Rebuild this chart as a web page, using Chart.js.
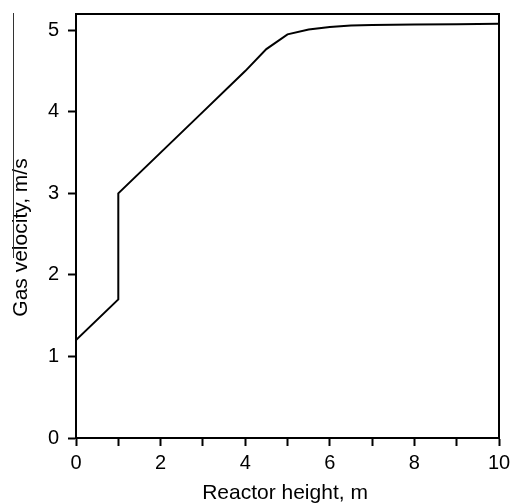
<!DOCTYPE html>
<html>
<head>
<meta charset="utf-8">
<script src="https://cdn.jsdelivr.net/npm/chart.js@4.4.1/dist/chart.umd.min.js"></script>
<style>
  html, body { margin: 0; padding: 0; background: #fff; }
  #wrap { width: 511px; height: 503px; }
</style>
</head>
<body>
<div id="wrap"><canvas id="line-chart"></canvas></div>
<script>
// Reactor height (m) vs gas velocity (m/s)
var heights = [0, 1, 1, 2, 3, 4, 4.5, 5, 5.5, 6, 6.5, 7, 8, 9, 10];
var velocities = [1.2, 1.7, 3.0, 3.5, 4.0, 4.5, 4.77, 4.95, 5.01, 5.04, 5.06, 5.065, 5.07, 5.075, 5.08];
var xTicks = [0, 2, 4, 6, 8, 10];
var yTicks = [0, 1, 2, 3, 4, 5];
var xTitle = 'Reactor height, m';
var yTitle = 'Gas velocity, m/s';

var points = heights.map(function (h, i) { return { x: h, y: velocities[i] }; });

var FONT = "'Liberation Sans', Arial, sans-serif";
Chart.defaults.font.family = FONT;
Chart.defaults.color = '#000';

// box around plot area, axis titles (sit a bit off-centre in the original),
// and the stray line at the left edge of the scan
var frame = {
    id: 'frame',
    afterDraw: function (chart) {
        var c = chart.ctx, a = chart.chartArea;
        c.save();
        c.strokeStyle = '#000';
        c.lineWidth = 2;
        c.strokeRect(a.left, a.top, a.right - a.left, a.bottom - a.top);

        c.fillStyle = '#000';
        c.textAlign = 'center';
        c.textBaseline = 'alphabetic';
        c.font = '21px ' + FONT;
        c.fillText(xTitle, 285, 499);
        c.save();
        c.translate(27, 237.5);
        c.rotate(-Math.PI / 2);
        c.fillText(yTitle, 0, 0);
        c.restore();

        c.lineWidth = 1;
        c.strokeStyle = '#333';
        c.beginPath();
        c.moveTo(13.5, 13);
        c.lineTo(13.5, 258);
        c.stroke();
        c.restore();
    }
};

new Chart(document.getElementById("line-chart"), {
    type: 'line',
    data: {
        datasets: [{
            data: points,
            borderColor: '#000',
            borderWidth: 2,
            pointRadius: 0,
            tension: 0,
            fill: false
        }]
    },
    plugins: [frame],
    options: {
        responsive: true,
        maintainAspectRatio: false,
        animation: false,
        layout: { padding: { top: 14, right: 12, left: 0, bottom: 0 } },
        plugins: { legend: { display: false }, tooltip: { enabled: false } },
        scales: {
            x: {
                type: 'linear',
                min: 0,
                max: 10,
                ticks: {
                    stepSize: 1,
                    font: { size: 20 },
                    padding: 5,
                    maxRotation: 0,
                    autoSkip: false,
                    callback: function (v) { return xTicks.indexOf(v) >= 0 ? String(v) : ''; }
                },
                grid: { drawOnChartArea: false, color: '#000', tickLength: 8, tickWidth: 2 },
                border: { color: '#000', width: 2 },
                afterFit: function (s) { s.height = 65; s.paddingLeft = 0; s.paddingRight = 0; }
            },
            y: {
                min: 0,
                max: 5.2,
                ticks: {
                    stepSize: 1,
                    includeBounds: false,
                    font: { size: 20 },
                    padding: 9,
                    callback: function (v) { return yTicks.indexOf(v) >= 0 ? String(v) : ''; }
                },
                grid: { drawOnChartArea: false, color: '#000', tickLength: 8, tickWidth: 2 },
                border: { color: '#000', width: 2 },
                afterFit: function (s) { s.width = 76; s.paddingTop = 0; s.paddingBottom = 0; }
            }
        }
    }
});
</script>
</body>
</html>
